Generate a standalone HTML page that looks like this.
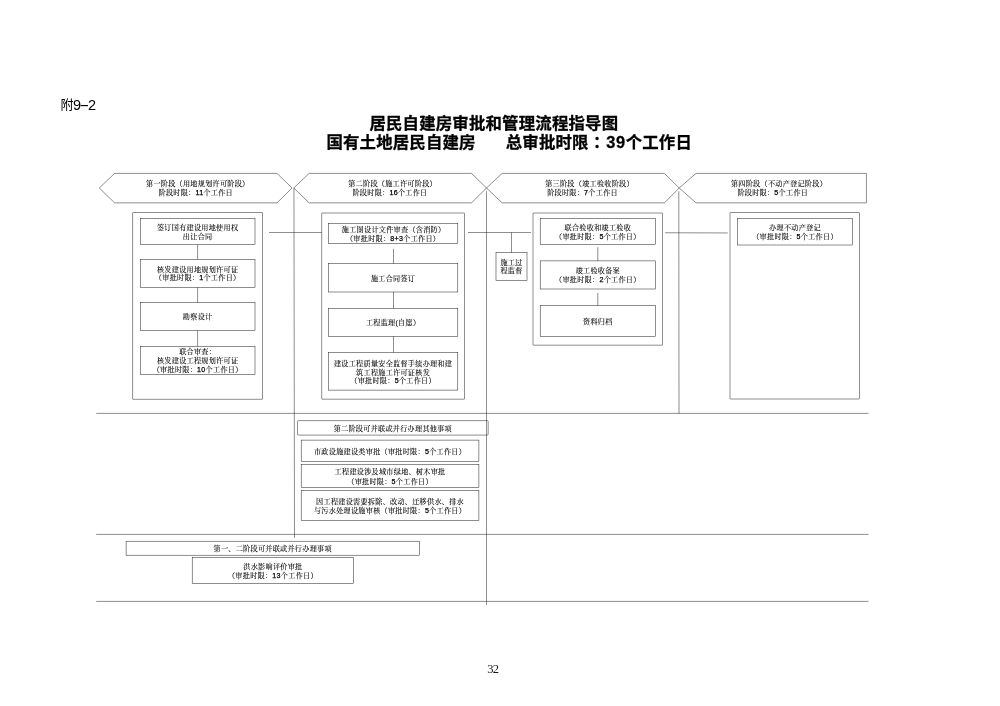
<!DOCTYPE html>
<html lang="zh-CN">
<head>
<meta charset="utf-8">
<title>居民自建房审批和管理流程指导图</title>
<style>
html,body{margin:0;padding:0;background:#fff;}
body{width:1000px;height:706px;position:relative;overflow:hidden;font-family:"Liberation Sans", "Noto Serif CJK SC", serif;color:#000;}
#page{position:absolute;left:0;top:0;width:1000px;height:706px;background:#fff;overflow:hidden;}
svg{position:absolute;left:0;top:0;}
svg *{fill:none;stroke:#1c1c1c;stroke-width:0.5;}
.t{position:absolute;left:0;top:0;will-change:transform;height:9px;text-align:center;font-size:7.1px;letter-spacing:0.3px;line-height:9px;color:#000;-webkit-text-stroke:0.1px #000;white-space:nowrap;}
.t b{font-weight:normal;-webkit-text-stroke:0.25px #000;}
.title{will-change:transform;position:absolute;left:0;top:0;font-family:"Liberation Sans", "Noto Sans CJK SC", sans-serif;font-weight:bold;font-size:16.4px;letter-spacing:0.2px;-webkit-text-stroke:0.3px #000;line-height:19.5px;white-space:nowrap;}
.title .n{letter-spacing:0.6px;margin-left:1px;}
.title .c{position:relative;left:4.4px;}
.att{will-change:transform;position:absolute;left:0;top:0;width:40px;height:18px;transform:translate(60.4px,95.1px);font-family:"Liberation Sans", "Noto Sans CJK SC", sans-serif;font-size:13px;line-height:18px;white-space:nowrap;}
.att span{position:absolute;top:0;left:0;}
.att .a1{top:1.3px;}
.att .a2{font-size:14.5px;top:0.5px;}
.att .a3{font-size:14.5px;left:19.6px;top:0.5px;width:8px;text-align:center;transform:scaleX(2.1);}
.pg{will-change:transform;position:absolute;left:0;top:0;transform:translate(487.2px,661.1px);font-family:"Liberation Serif","Noto Serif CJK SC",serif;font-size:12.5px;letter-spacing:-0.6px;line-height:16px;color:#1a1a1a;}
</style>
</head>
<body>
<div id="page">
<svg width="1000" height="706" viewBox="0 0 1000 706">
<path d="M99.3 188.0 L114.6 173.4 L277.0 173.4 L292.1 188.0 L277.0 202.85 L114.6 202.85 Z"/>
<path d="M293.8 188.0 L309.1 173.4 L471.5 173.4 L486.5 188.0 L471.5 202.85 L309.1 202.85 Z"/>
<path d="M486.5 188.0 L502.1 173.4 L664.4 173.4 L679.2 188.0 L664.4 202.85 L502.1 202.85 Z"/>
<path d="M679.2 188.0 L696.0 173.4 L866.4 173.4 L866.4 202.85 L696.0 202.85 Z"/>
<line x1="293.95" y1="188.0" x2="294.5" y2="537.8"/>
<line x1="486.5" y1="191.2" x2="486.5" y2="604.9"/>
<line x1="678.8" y1="191.2" x2="679.0" y2="413.6"/>
<line x1="96.2" y1="413.4" x2="868.5" y2="413.4"/>
<line x1="96.2" y1="534.4" x2="868.5" y2="534.4"/>
<line x1="96.2" y1="601.4" x2="868.5" y2="601.4"/>
<line x1="269.0" y1="232.5" x2="321.7" y2="232.5"/>
<line x1="468.0" y1="232.5" x2="531.0" y2="232.5"/>
<line x1="665.2" y1="232.75" x2="727.75" y2="232.95"/>
<line x1="511.5" y1="232.5" x2="511.5" y2="252.6"/>
<line x1="197.6" y1="245.0" x2="197.6" y2="259.3"/>
<line x1="197.6" y1="287.5" x2="197.6" y2="302.4"/>
<line x1="197.6" y1="330.5" x2="197.6" y2="346.3"/>
<line x1="393.5" y1="248.8" x2="393.5" y2="263.5"/>
<line x1="393.5" y1="292.0" x2="393.5" y2="308.3"/>
<line x1="393.5" y1="336.5" x2="393.5" y2="352.5"/>
<line x1="597.8" y1="247.2" x2="597.8" y2="260.9"/>
<line x1="597.8" y1="293.0" x2="597.8" y2="305.6"/>
<rect x="132.6" y="212.5" width="129.90" height="186.80" rx="0.4"/>
<rect x="321.7" y="213.0" width="142.80" height="186.20" rx="0.4"/>
<rect x="533.0" y="213.0" width="129.50" height="132.20" rx="0.4"/>
<rect x="730.0" y="212.5" width="129.50" height="186.50" rx="0.4"/>
<rect x="140.3" y="218.4" width="114.70" height="26.20" rx="0"/>
<rect x="140.3" y="259.3" width="114.70" height="28.20" rx="0"/>
<rect x="140.3" y="302.4" width="114.70" height="28.10" rx="0"/>
<rect x="140.3" y="346.3" width="114.70" height="28.00" rx="0"/>
<rect x="328.4" y="223.4" width="129.40" height="19.90" rx="0"/>
<rect x="328.4" y="263.5" width="129.40" height="28.50" rx="0"/>
<rect x="328.4" y="308.3" width="129.40" height="28.20" rx="0"/>
<rect x="328.4" y="352.5" width="129.40" height="37.60" rx="0"/>
<rect x="496.0" y="252.6" width="31.00" height="27.90" rx="0"/>
<rect x="540.2" y="218.4" width="115.30" height="26.10" rx="0"/>
<rect x="540.2" y="260.9" width="115.30" height="28.10" rx="0"/>
<rect x="540.2" y="305.6" width="115.30" height="30.80" rx="0"/>
<rect x="737.5" y="218.4" width="115.00" height="26.60" rx="0"/>
<rect x="297.5" y="420.6" width="190.70" height="14.50" rx="1"/>
<rect x="301.2" y="440.1" width="177.70" height="21.30" rx="0"/>
<rect x="301.2" y="464.5" width="177.70" height="23.10" rx="0"/>
<rect x="301.2" y="490.7" width="177.70" height="29.60" rx="0"/>
<rect x="126.1" y="541.2" width="293.20" height="14.00" rx="0"/>
<rect x="192.2" y="557.7" width="161.40" height="25.60" rx="0"/>
</svg>
<div class="att"><span class="a1">附</span><span class="a2" style="left:12.6px">9</span><span class="a3">-</span><span class="a2" style="left:27.5px">2</span></div>
<div class="title" style="transform:translate(369.4px,113.6px)">居民自建房审批和管理流程指导图</div>
<div class="title" style="transform:translate(326.4px,133.2px)">国有土地居民自建房</div>
<div class="title" style="transform:translate(505.7px,133.2px)">总审批时限<span class="c">：</span><span class="n">39</span>个工作日</div>
<div class="t" style="width:192.5px;transform:translate(101.50px,180.32px)">第一阶段（用地规划许可阶段）</div>
<div class="t" style="width:192.5px;transform:translate(99.50px,189.12px)">阶段时限：<b>11</b>个工作日</div>
<div class="t" style="width:192.6px;transform:translate(296.30px,180.32px)">第二阶段（施工许可阶段）</div>
<div class="t" style="width:192.6px;transform:translate(293.70px,189.12px)">阶段时限：<b>16</b>个工作日</div>
<div class="t" style="width:192.5px;transform:translate(493.30px,180.32px)">第三阶段（竣工验收阶段）</div>
<div class="t" style="width:192.5px;transform:translate(486.30px,189.12px)">阶段时限：<b>7</b>个工作日</div>
<div class="t" style="width:188.0px;transform:translate(685.00px,180.32px)">第四阶段（不动产登记阶段）</div>
<div class="t" style="width:188.0px;transform:translate(678.80px,189.12px)">阶段时限：<b>5</b>个工作日</div>
<div class="t" style="width:114.7px;transform:translate(140.30px,224.00px)">签订国有建设用地使用权</div>
<div class="t" style="width:114.7px;transform:translate(140.30px,232.80px)">出让合同</div>
<div class="t" style="width:114.7px;transform:translate(140.30px,265.50px)">核发建设用地规划许可证</div>
<div class="t" style="width:114.7px;transform:translate(140.30px,274.30px)">（审批时限：<b>1</b>个工作日）</div>
<div class="t" style="width:114.7px;transform:translate(140.30px,313.15px)">勘察设计</div>
<div class="t" style="width:114.7px;transform:translate(140.30px,347.80px)">联合审查：</div>
<div class="t" style="width:114.7px;transform:translate(140.30px,357.00px)">核发建设工程规划许可证</div>
<div class="t" style="width:114.7px;transform:translate(140.30px,366.20px)">（审批时限：<b>10</b>个工作日）</div>
<div class="t" style="width:129.4px;transform:translate(328.90px,225.55px)">施工图设计文件审查（含消防）</div>
<div class="t" style="width:129.4px;transform:translate(328.40px,234.55px)">（审批时限：<b>8+3</b>个工作日）</div>
<div class="t" style="width:129.4px;transform:translate(328.40px,274.65px)">施工合同签订</div>
<div class="t" style="width:129.4px;transform:translate(328.40px,319.30px)">工程监理(自愿）</div>
<div class="t" style="width:129.4px;transform:translate(328.40px,359.70px)">建设工程质量安全监督手续办理和建</div>
<div class="t" style="width:129.4px;transform:translate(328.40px,368.50px)">筑工程施工许可证核发</div>
<div class="t" style="width:129.4px;transform:translate(328.40px,377.30px)">（审批时限：<b>5</b>个工作日）</div>
<div class="t" style="width:31.0px;transform:translate(496.00px,258.90px)">施工过</div>
<div class="t" style="width:31.0px;transform:translate(496.00px,267.20px)">程监督</div>
<div class="t" style="width:115.3px;transform:translate(540.20px,223.95px)">联合验收和竣工验收</div>
<div class="t" style="width:115.3px;transform:translate(540.20px,232.75px)">（审批时限：<b>5</b>个工作日）</div>
<div class="t" style="width:115.3px;transform:translate(540.20px,267.45px)">竣工验收备案</div>
<div class="t" style="width:115.3px;transform:translate(540.20px,276.25px)">（审批时限：<b>2</b>个工作日）</div>
<div class="t" style="width:115.3px;transform:translate(540.20px,317.90px)">资料归档</div>
<div class="t" style="width:115.0px;transform:translate(737.50px,224.20px)">办理不动产登记</div>
<div class="t" style="width:115.0px;transform:translate(737.50px,233.00px)">（审批时限：<b>5</b>个工作日）</div>
<div class="t" style="width:190.7px;transform:translate(297.50px,424.65px)">第二阶段可并联或并行办理其他事项</div>
<div class="t" style="width:177.7px;transform:translate(301.20px,447.65px)">市政设施建设类审批（审批时限：<b>5</b>个工作日）</div>
<div class="t" style="width:177.7px;transform:translate(301.20px,468.40px)">工程建设涉及城市绿地、树木审批</div>
<div class="t" style="width:177.7px;transform:translate(301.20px,477.50px)">（审批时限：<b>5</b>个工作日）</div>
<div class="t" style="width:177.7px;transform:translate(301.20px,498.00px)">因工程建设需要拆除、改动、迁移供水、排水</div>
<div class="t" style="width:177.7px;transform:translate(301.20px,506.80px)">与污水处理设施审核（审批时限：<b>5</b>个工作日）</div>
<div class="t" style="width:293.2px;transform:translate(126.10px,545.10px)">第一、二阶段可并联或并行办理事项</div>
<div class="t" style="width:161.4px;transform:translate(192.20px,563.00px)">洪水影响评价审批</div>
<div class="t" style="width:161.4px;transform:translate(192.20px,571.80px)">（审批时限：<b>13</b>个工作日）</div>
<div class="pg">32</div>
</div>
</body>
</html>
